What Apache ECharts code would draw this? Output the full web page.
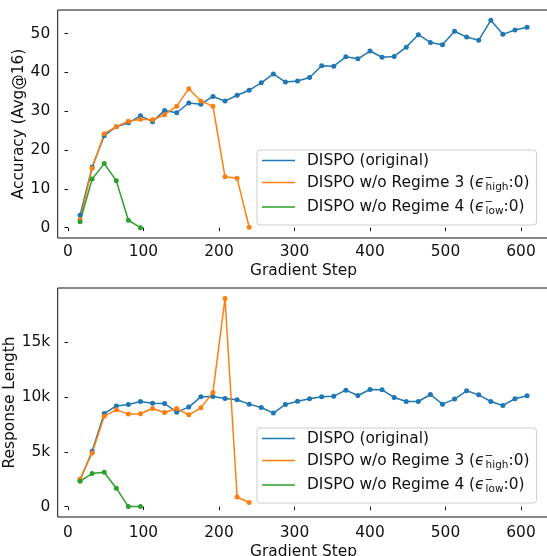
<!DOCTYPE html>
<html>
<head>
<meta charset="utf-8">
<script src="https://cdn.jsdelivr.net/npm/echarts@6/dist/echarts.min.js"></script>
<style>
  html, body { margin: 0; padding: 0; background: #fff; }
  #chart { width: 547px; height: 556px; }
</style>
</head>
<body>
<div id="chart"></div>
<script>
// gradient steps (x)
const steps = [16, 32, 48, 64, 80, 96, 112, 128, 144, 160, 176, 192, 208, 224, 240, 256, 272, 288, 304, 320,
  336, 352, 368, 384, 400, 416, 432, 448, 464, 480, 496, 512, 528, 544, 560, 576, 592, 608]

// accuracy (Avg@16)
const accOriginal = [3.2, 15.6, 23.7, 26.0, 27.0, 28.8, 27.3, 30.2, 29.6, 32.1, 31.8, 33.8, 32.6, 34.1, 35.4, 37.3, 39.6,
  37.5, 37.8, 38.7, 41.7, 41.6, 44.0, 43.5, 45.5, 43.9, 44.1, 46.5, 49.7, 47.7, 47.1, 50.6, 49.1, 48.3, 53.4, 49.8, 50.9, 51.6]
const accNoR3 = [2.0, 15.3, 24.2, 26.0, 27.4, 27.9, 27.8, 29.1, 31.3, 35.8, 32.6, 31.3, 13.1, 12.7, 0.1]
const accNoR4 = [1.5, 12.5, 16.5, 12.1, 1.9, 0.0]

// response length
const lenOriginal = [2410, 5060, 8500, 9200, 9330, 9600, 9450, 9420, 8630, 9090, 10030, 10060, 9880, 9760, 9360, 9050, 8540,
  9330, 9630, 9850, 10030, 10090, 10640, 10150, 10700, 10670, 9970, 9600, 9600, 10240, 9360, 9820, 10580, 10210, 9600, 9240, 9850, 10120]
const lenNoR3 = [2530, 4900, 8260, 8840, 8450, 8480, 8960, 8600, 8960, 8380, 9020, 10430, 19020, 880, 370]
const lenNoR4 = [2320, 3020, 3140, 1680, 0, 0]

const xTicks = [0, 100, 200, 300, 400, 500, 600]
const accTicks = [0, 10, 20, 30, 40, 50]
const lenTicks = [0, 5000, 10000, 15000]

const names = ['DISPO (original)', 'DISPO w/o Regime 3', 'DISPO w/o Regime 4']
const legendText = {
  'DISPO (original)': '{sp| }{n|DISPO (original)}',
  'DISPO w/o Regime 3': '{sp| }{n|DISPO w/o Regime 3 (}{e|ϵ}{sup|−}{sub|high}{n|:0)}',
  'DISPO w/o Regime 4': '{sp| }{n|DISPO w/o Regime 4 (}{e|ϵ}{sup|−}{sub|low}{n|:0)}'
}

const FONT = 'DejaVu Sans'
const INK = '#111111'
const colors = ['#1f77b4', '#ff7f0e', '#2ca02c']

const pairs = vals => vals.map((v, i) => [steps[i], v])

const rich = {
  sp: { width: 7, fontSize: 15.4 },
  n: { fontFamily: FONT, fontSize: 15.4, color: INK, lineHeight: 20 },
  e: { fontFamily: FONT, fontSize: 15.4, fontStyle: 'italic', color: INK, lineHeight: 20 },
  sup: { fontFamily: FONT, fontSize: 10.5, color: INK, lineHeight: 10, verticalAlign: 'top', width: 1 },
  sub: { fontFamily: FONT, fontSize: 10.5, color: INK, lineHeight: 12, verticalAlign: 'bottom' }
}

function legend(top) {
  return {
    orient: 'vertical',
    left: 257,
    top: top,
    padding: [3, 7, 8, 5],
    itemGap: 4.5,
    itemWidth: 33,
    itemHeight: 1.6,
    icon: 'rect',
    backgroundColor: 'rgba(255,255,255,0.8)',
    borderColor: '#cccccc',
    borderWidth: 1,
    borderRadius: 3,
    data: names,
    formatter: name => legendText[name],
    textStyle: { rich: rich }
  }
}

function xAxis(grid, margin, gap) {
  return {
    type: 'value',
    gridIndex: grid,
    min: -13.6,
    max: 637.6,
    name: 'Gradient Step',
    nameLocation: 'middle',
    nameGap: gap,
    nameMoveOverlap: false,
    nameTextStyle: { fontFamily: FONT, fontSize: 15.4, color: INK },
    axisLine: { show: false },
    axisTick: { show: true, length: 3.5, customValues: xTicks, lineStyle: { color: INK, width: 1 } },
    axisLabel: { customValues: xTicks, margin: margin, fontFamily: FONT, fontSize: 15.4, color: INK },
    splitLine: { show: false }
  }
}

function yAxis(grid, min, max, ticks, name, gap, fmt) {
  return {
    type: 'value',
    gridIndex: grid,
    min: min,
    max: max,
    name: name,
    nameLocation: 'middle',
    nameGap: gap,
    nameMoveOverlap: false,
    nameTextStyle: { fontFamily: FONT, fontSize: 15.4, color: INK },
    axisLine: { show: false },
    axisTick: { show: true, length: 3.5, customValues: ticks, lineStyle: { color: INK, width: 1 } },
    axisLabel: { customValues: ticks, margin: 7.5, fontFamily: FONT, fontSize: 15.4, color: INK, formatter: fmt },
    splitLine: { show: false }
  }
}

function line(name, vals, grid, color) {
  return {
    type: 'line',
    name: name,
    xAxisIndex: grid,
    yAxisIndex: grid,
    data: pairs(vals),
    symbol: 'circle',
    symbolSize: 5,
    showSymbol: true,
    color: color,
    lineStyle: { width: 1.5, color: color },
    itemStyle: { color: color },
    emphasis: { disabled: true }
  }
}

const chart = echarts.init(document.getElementById('chart'))
chart.setOption({
  animation: false,
  backgroundColor: '#fff',
  grid: [
    { left: 57.7, top: 10, width: 491.7, height: 228, outerBoundsMode: 'none', containLabel: false,
      show: true, borderColor: INK, borderWidth: 1 },
    { left: 57.7, top: 288, width: 491.7, height: 229, outerBoundsMode: 'none', containLabel: false,
      show: true, borderColor: INK, borderWidth: 1 }
  ],
  xAxis: [xAxis(0, 6, 25), xAxis(1, 8, 27)],
  yAxis: [
    yAxis(0, -2.67, 56.07, accTicks, 'Accuracy (Avg@16)', 31, v => String(v)),
    yAxis(1, -951, 19971, lenTicks, 'Response Length', 40, v => (v === 0 ? '0' : v / 1000 + 'k'))
  ],
  legend: [legend(150), legend(428)],
  series: [
    line(names[0], accOriginal, 0, colors[0]),
    line(names[1], accNoR3, 0, colors[1]),
    line(names[2], accNoR4, 0, colors[2]),
    line(names[0], lenOriginal, 1, colors[0]),
    line(names[1], lenNoR3, 1, colors[1]),
    line(names[2], lenNoR4, 1, colors[2])
  ]
})
</script>
</body>
</html>
